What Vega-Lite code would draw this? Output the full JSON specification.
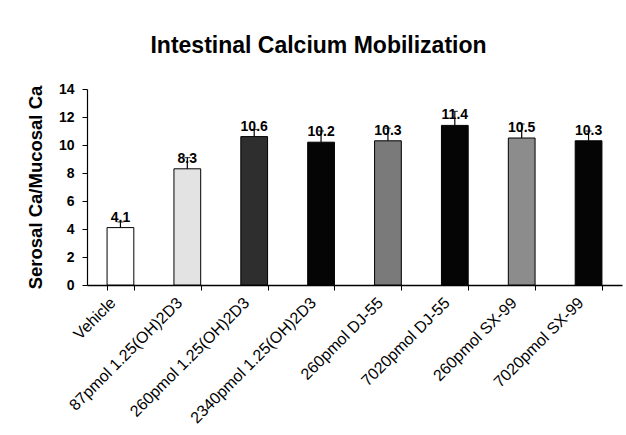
{
  "$schema": "https://vega.github.io/schema/vega-lite/v6.json",
  "autosize": "none",
  "width": 535,
  "height": 196,
  "padding": {"left": 87, "top": 89, "right": 4, "bottom": 150},
  "background": "white",
  "title": {
    "text": "Intestinal Calcium Mobilization",
    "font": "Liberation Sans",
    "fontSize": 23,
    "fontWeight": "bold",
    "color": "#000000",
    "anchor": "middle",
    "dx": -36,
    "offset": 24
  },
  "config": {
    "view": {"stroke": null},
    "axis": {"domainColor": "#000000", "tickColor": "#000000", "labelColor": "#000000", "titleColor": "#000000", "labelFont": "Liberation Sans", "titleFont": "Liberation Sans", "grid": false},
    "axisY": {"values": [0, 2, 4, 6, 8, 10, 12, 14], "labelOverlap": false, "labelFlush": false, "labelFontSize": 14, "labelFontWeight": "bold", "labelPadding": 8, "tickSize": 5, "domainWidth": 1.2, "titleFontSize": 18.5, "titleFontWeight": "bold", "titlePadding": 13}
  },
  "data": {
    "values": [
      {"group": "Vehicle", "value": 4.1, "upper": 4.5},
      {"group": "87pmol 1.25(OH)2D3", "value": 8.3, "upper": 9.1},
      {"group": "260pmol 1.25(OH)2D3", "value": 10.6, "upper": 11.1},
      {"group": "2340pmol 1.25(OH)2D3", "value": 10.2, "upper": 11.0},
      {"group": "260pmol DJ-55", "value": 10.3, "upper": 11.2},
      {"group": "7020pmol DJ-55", "value": 11.4, "upper": 12.4},
      {"group": "260pmol SX-99", "value": 10.5, "upper": 11.5},
      {"group": "7020pmol SX-99", "value": 10.3, "upper": 11.0}
    ]
  },
  "encoding": {
    "x": {
      "field": "group",
      "type": "nominal",
      "sort": null,
      "scale": {"paddingInner": 0.6, "paddingOuter": 0.3},
      "axis": {
        "title": null,
        "labelAngle": -45,
        "labelAlign": "right",
        "labelBaseline": "middle",
        "labelFontSize": 16,
        "labelFontWeight": "normal",
        "labelPadding": 10,
        "labelOffset": -8,
        "tickBand": "extent",
        "tickSize": 5,
        "domainWidth": 1.5,
        "labelLimit": 300
      }
    }
  },
  "layer": [
    {
      "mark": {"type": "bar", "stroke": "#000000", "strokeWidth": 1},
      "encoding": {
        "y": {
          "field": "value",
          "type": "quantitative",
          "scale": {"domain": [0, 14], "nice": false},
          "axis": {"title": "Serosal Ca/Mucosal Ca", "values": [0, 2, 4, 6, 8, 10, 12, 14]}
        },
        "color": {
          "field": "group",
          "type": "nominal",
          "sort": null,
          "legend": null,
          "scale": {
            "domain": ["Vehicle", "87pmol 1.25(OH)2D3", "260pmol 1.25(OH)2D3", "2340pmol 1.25(OH)2D3", "260pmol DJ-55", "7020pmol DJ-55", "260pmol SX-99", "7020pmol SX-99"],
            "range": ["#ffffff", "#e3e3e3", "#2e2e2e", "#050505", "#7a7a7a", "#050505", "#8c8c8c", "#050505"]
          }
        }
      }
    },
    {
      "mark": {"type": "rule", "color": "#000000", "strokeWidth": 1.2},
      "encoding": {
        "y": {"field": "value", "type": "quantitative", "axis": {"title": "Serosal Ca/Mucosal Ca", "values": [0, 2, 4, 6, 8, 10, 12, 14]}},
        "y2": {"field": "upper"}
      }
    },
    {
      "mark": {"type": "tick", "color": "#000000", "thickness": 1.2, "size": 6},
      "encoding": {
        "y": {"field": "upper", "type": "quantitative", "axis": {"title": "Serosal Ca/Mucosal Ca", "values": [0, 2, 4, 6, 8, 10, 12, 14]}}
      }
    },
    {
      "mark": {"type": "text", "baseline": "alphabetic", "dy": -6, "font": "Liberation Sans", "fontSize": 14, "fontWeight": "bold", "color": "#000000"},
      "encoding": {
        "y": {"field": "value", "type": "quantitative", "axis": {"title": "Serosal Ca/Mucosal Ca", "values": [0, 2, 4, 6, 8, 10, 12, 14]}},
        "text": {"field": "value", "type": "quantitative", "format": ".1f"}
      }
    }
  ]
}
